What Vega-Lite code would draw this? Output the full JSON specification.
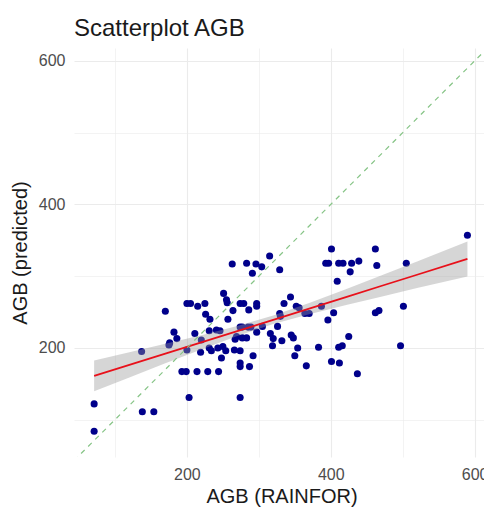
{
  "$schema": "https://vega.github.io/schema/vega-lite/v6.json",
  "autosize": {"type": "none"},
  "width": 415,
  "height": 409,
  "padding": {"left": 74, "top": 48, "right": 0, "bottom": 51},
  "background": "white",
  "title": {"text": "Scatterplot AGB", "anchor": "start", "frame": "group", "fontSize": 24, "font": "Liberation Sans", "fontWeight": "normal", "color": "#1a1a1a", "offset": 7},
  "config": {
    "view": {"stroke": null},
    "font": "Liberation Sans",
    "axis": {
      "domain": false,
      "ticks": false,
      "gridColor": "#EBEBEB",
      "labelColor": "#4d4d4d",
      "labelFontSize": 16,
      "labelFont": "Liberation Sans",
      "titleFont": "Liberation Sans",
      "titleFontSize": 20,
      "titleFontWeight": "normal",
      "titleColor": "#1a1a1a"
    }
  },
  "datasets": {
    "points": [
      {"rainfor": 315, "predicted": 328}, {"rainfor": 263, "predicted": 317}, {"rainfor": 283, "predicted": 318},
      {"rainfor": 296, "predicted": 317}, {"rainfor": 304, "predicted": 313}, {"rainfor": 291, "predicted": 304},
      {"rainfor": 329, "predicted": 309}, {"rainfor": 251, "predicted": 276}, {"rainfor": 255, "predicted": 267},
      {"rainfor": 256, "predicted": 263}, {"rainfor": 200, "predicted": 262}, {"rainfor": 205, "predicted": 262},
      {"rainfor": 215, "predicted": 258}, {"rainfor": 225, "predicted": 262}, {"rainfor": 274, "predicted": 262},
      {"rainfor": 279, "predicted": 262}, {"rainfor": 297, "predicted": 262}, {"rainfor": 297, "predicted": 258},
      {"rainfor": 264, "predicted": 252}, {"rainfor": 286, "predicted": 253}, {"rainfor": 170, "predicted": 251},
      {"rainfor": 226, "predicted": 247}, {"rainfor": 232, "predicted": 240}, {"rainfor": 257, "predicted": 240},
      {"rainfor": 182, "predicted": 222}, {"rainfor": 186, "predicted": 213}, {"rainfor": 211, "predicted": 220},
      {"rainfor": 231, "predicted": 224}, {"rainfor": 241, "predicted": 225}, {"rainfor": 246, "predicted": 224},
      {"rainfor": 274, "predicted": 229}, {"rainfor": 277, "predicted": 229}, {"rainfor": 285, "predicted": 229},
      {"rainfor": 289, "predicted": 229}, {"rainfor": 297, "predicted": 222}, {"rainfor": 305, "predicted": 230},
      {"rainfor": 316, "predicted": 220}, {"rainfor": 320, "predicted": 213}, {"rainfor": 319, "predicted": 203},
      {"rainfor": 326, "predicted": 230}, {"rainfor": 175, "predicted": 204}, {"rainfor": 176, "predicted": 207},
      {"rainfor": 200, "predicted": 197}, {"rainfor": 137, "predicted": 195}, {"rainfor": 220, "predicted": 211},
      {"rainfor": 231, "predicted": 200}, {"rainfor": 234, "predicted": 196}, {"rainfor": 219, "predicted": 194},
      {"rainfor": 243, "predicted": 200}, {"rainfor": 250, "predicted": 202}, {"rainfor": 254, "predicted": 196},
      {"rainfor": 248, "predicted": 186}, {"rainfor": 267, "predicted": 212}, {"rainfor": 269, "predicted": 216},
      {"rainfor": 277, "predicted": 214}, {"rainfor": 283, "predicted": 214}, {"rainfor": 266, "predicted": 197},
      {"rainfor": 274, "predicted": 196}, {"rainfor": 292, "predicted": 189}, {"rainfor": 274, "predicted": 179},
      {"rainfor": 274, "predicted": 174}, {"rainfor": 287, "predicted": 174}, {"rainfor": 193, "predicted": 167},
      {"rainfor": 199, "predicted": 167}, {"rainfor": 214, "predicted": 167}, {"rainfor": 229, "predicted": 167},
      {"rainfor": 244, "predicted": 167}, {"rainfor": 203, "predicted": 131}, {"rainfor": 274, "predicted": 131},
      {"rainfor": 71, "predicted": 122}, {"rainfor": 138, "predicted": 111}, {"rainfor": 154, "predicted": 111},
      {"rainfor": 71, "predicted": 84}, {"rainfor": 590, "predicted": 357}, {"rainfor": 401, "predicted": 338},
      {"rainfor": 462, "predicted": 338}, {"rainfor": 393, "predicted": 318}, {"rainfor": 397, "predicted": 318},
      {"rainfor": 411, "predicted": 318}, {"rainfor": 417, "predicted": 318}, {"rainfor": 429, "predicted": 318},
      {"rainfor": 439, "predicted": 321}, {"rainfor": 427, "predicted": 306}, {"rainfor": 464, "predicted": 315},
      {"rainfor": 505, "predicted": 318}, {"rainfor": 409, "predicted": 293}, {"rainfor": 344, "predicted": 271},
      {"rainfor": 335, "predicted": 262}, {"rainfor": 352, "predicted": 258}, {"rainfor": 356, "predicted": 256},
      {"rainfor": 329, "predicted": 248}, {"rainfor": 330, "predicted": 244}, {"rainfor": 364, "predicted": 248},
      {"rainfor": 370, "predicted": 248}, {"rainfor": 387, "predicted": 258}, {"rainfor": 404, "predicted": 249},
      {"rainfor": 396, "predicted": 239}, {"rainfor": 462, "predicted": 249}, {"rainfor": 467, "predicted": 252},
      {"rainfor": 501, "predicted": 258}, {"rainfor": 332, "predicted": 210}, {"rainfor": 345, "predicted": 218},
      {"rainfor": 348, "predicted": 214}, {"rainfor": 354, "predicted": 200}, {"rainfor": 350, "predicted": 189},
      {"rainfor": 366, "predicted": 175}, {"rainfor": 383, "predicted": 201}, {"rainfor": 411, "predicted": 201},
      {"rainfor": 416, "predicted": 203}, {"rainfor": 425, "predicted": 216}, {"rainfor": 401, "predicted": 181},
      {"rainfor": 412, "predicted": 179}, {"rainfor": 437, "predicted": 164}, {"rainfor": 497, "predicted": 203}
    ],
    "fit": [
      {"x": 71, "fit": 161.0, "lower": 139.5, "upper": 182.5},
      {"x": 120, "fit": 176.4, "lower": 158.9, "upper": 193.9},
      {"x": 170, "fit": 192.1, "lower": 178.5, "upper": 205.7},
      {"x": 220, "fit": 207.8, "lower": 197.9, "upper": 217.7},
      {"x": 270, "fit": 223.5, "lower": 216.5, "upper": 230.5},
      {"x": 320, "fit": 239.2, "lower": 233.2, "upper": 245.2},
      {"x": 370, "fit": 254.9, "lower": 247.1, "upper": 262.7},
      {"x": 420, "fit": 270.6, "lower": 259.6, "upper": 281.6},
      {"x": 470, "fit": 286.3, "lower": 271.5, "upper": 301.1},
      {"x": 520, "fit": 302.0, "lower": 283.4, "upper": 320.6},
      {"x": 590, "fit": 324.0, "lower": 299.5, "upper": 348.5}
    ],
    "ident": [{"v": 43}, {"v": 620}]
  },
  "layer": [
    {
      "data": {"name": "points"},
      "mark": {"type": "circle", "color": "#00008B", "size": 50, "opacity": 1},
      "encoding": {
        "x": {
          "field": "rainfor", "type": "quantitative", "title": "AGB (RAINFOR)",
          "scale": {"domain": [43, 620], "nice": false, "zero": false},
          "axis": {
            "values": [100, 200, 300, 400, 500, 600],
            "labelExpr": "datum.value % 200 === 0 ? datum.label : ''",
            "gridWidth": {"condition": {"test": "datum.value % 200 === 0", "value": 1.1}, "value": 0.6},
            "labelPadding": 9,
            "titlePadding": 4
          }
        },
        "y": {
          "field": "predicted", "type": "quantitative", "title": "AGB (predicted)",
          "scale": {"domain": [48, 618], "nice": false, "zero": false},
          "axis": {
            "values": [100, 200, 300, 400, 500, 600],
            "labelExpr": "datum.value % 200 === 0 ? datum.label : ''",
            "gridWidth": {"condition": {"test": "datum.value % 200 === 0", "value": 1.1}, "value": 0.6},
            "labelPadding": 9,
            "titlePadding": 8
          }
        }
      }
    },
    {
      "data": {"name": "fit"},
      "mark": {"type": "area", "color": "#999999", "opacity": 0.4},
      "encoding": {
        "x": {"field": "x", "type": "quantitative", "title": "AGB (RAINFOR)"},
        "y": {"field": "lower", "type": "quantitative", "title": "AGB (predicted)"},
        "y2": {"field": "upper"}
      }
    },
    {
      "data": {"name": "fit"},
      "mark": {"type": "line", "color": "#e8101a", "strokeWidth": 1.8},
      "encoding": {
        "x": {"field": "x", "type": "quantitative", "title": "AGB (RAINFOR)"},
        "y": {"field": "fit", "type": "quantitative", "title": "AGB (predicted)"}
      }
    },
    {
      "data": {"name": "ident"},
      "mark": {"type": "line", "clip": true, "color": "#86c486", "strokeDash": [5, 5], "strokeWidth": 1.2},
      "encoding": {
        "x": {"field": "v", "type": "quantitative", "title": "AGB (RAINFOR)"},
        "y": {"field": "v", "type": "quantitative", "title": "AGB (predicted)"}
      }
    }
  ]
}
